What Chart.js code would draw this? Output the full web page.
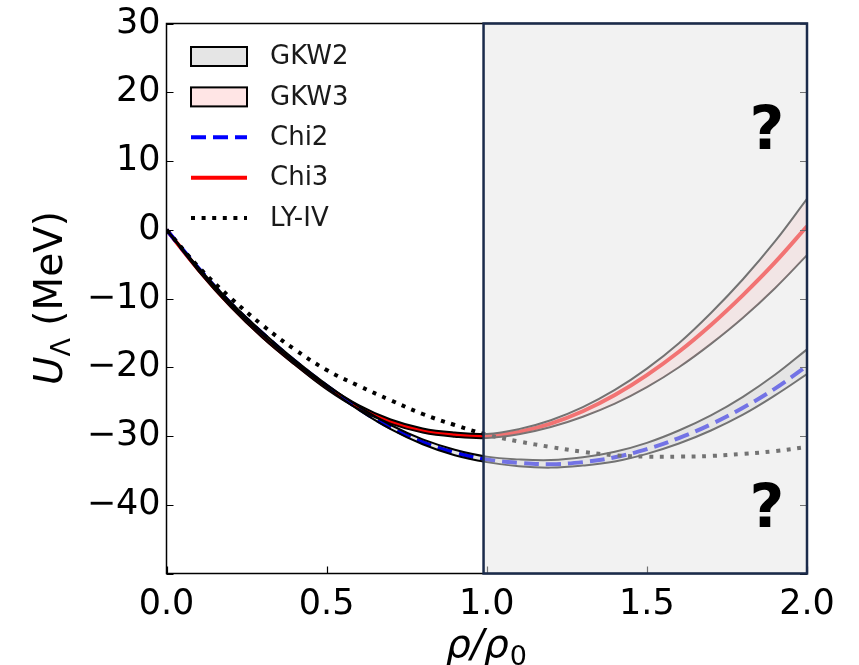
<!DOCTYPE html>
<html>
<head>
<meta charset="utf-8">
<script src="https://cdn.jsdelivr.net/npm/chart.js@4/dist/chart.umd.min.js"></script>
<style>
  html, body { margin: 0; padding: 0; background: #ffffff; }
  #main-chart { display: block; }
</style>
</head>
<body>
<canvas id="main-chart" width="859" height="665"></canvas>
<script>
// density rho/rho0
const RHO = [0, 0.1, 0.2, 0.3, 0.4, 0.5, 0.6, 0.7, 0.8, 0.9, 1.0,
  1.1, 1.2, 1.3, 1.4, 1.5, 1.6, 1.7, 1.8, 1.9, 2.0]

// U_Lambda (MeV)
const CHI2 = [0, -5.6, -10.7, -15.1, -19.1, -22.7, -26.0, -28.8, -30.9, -32.4, -33.4,
  -33.9, -34.1, -33.8, -33.1, -31.9, -30.3, -28.3, -25.9, -23.1, -19.8]
const GKW2_UPPER = [0, -5.5, -10.5, -14.9, -18.9, -22.5, -25.7, -28.4, -30.5, -32.0, -33.0,
  -33.4, -33.5, -33.1, -32.3, -31.0, -29.2, -27.0, -24.3, -21.1, -17.4]
const GKW2_LOWER = [0, -5.7, -10.9, -15.3, -19.3, -22.9, -26.2, -29.0, -31.2, -32.8, -33.8,
  -34.4, -34.6, -34.3, -33.7, -32.6, -31.1, -29.2, -26.9, -24.1, -21.0]

const CHI3 = [0, -5.8, -11.0, -15.5, -19.4, -22.9, -25.8, -27.9, -29.2, -29.8, -30.0,
  -29.4, -28.2, -26.4, -24.05, -21.15, -17.75, -13.85, -9.5, -4.75, 0.5]
const GKW3_UPPER = [0, -5.6, -10.8, -15.3, -19.2, -22.6, -25.5, -27.6, -28.9, -29.5, -29.7,
  -29.0, -27.7, -25.8, -23.3, -20.2, -16.5, -12.1, -7.2, -1.7, 4.5]
const GKW3_LOWER = [0, -6.0, -11.2, -15.7, -19.6, -23.2, -26.1, -28.2, -29.5, -30.1, -30.3,
  -29.75, -28.7, -27.2, -25.3, -22.9, -20.0, -16.6, -12.8, -8.5, -3.7]

const LY_IV = [0, -5.4, -9.9, -13.9, -17.4, -20.4, -22.7, -24.8, -26.8, -28.4, -29.8,
  -30.8, -31.6, -32.3, -32.8, -33.0, -33.0, -32.9, -32.6, -32.2, -31.6]

const X_TICKS = [0, 0.5, 1.0, 1.5, 2.0]
const Y_TICKS = [-50, -40, -30, -20, -10, 0, 10, 20, 30]

// extrapolation region and its markers
const UNKNOWN_FROM = 0.99
const UNKNOWN_TO = 2.0
const MARKS = [{ x: 1.875, y: 14, text: '?' }, { x: 1.875, y: -41, text: '?' }]

const FONT = '"DejaVu Sans", "Liberation Sans", sans-serif'

const toPoints = (ys) => RHO.map((x, i) => ({ x, y: ys[i] }))

const minus = (v) => v < 0 ? '\u2212' + Math.abs(v) : String(v)

const legendItems = [
  { label: 'GKW2', kind: 'box', fill: 'rgba(0,0,0,0.1)' },
  { label: 'GKW3', kind: 'box', fill: 'rgba(255,0,0,0.1)' },
  { label: 'Chi2', kind: 'line', color: '#0000ff', dash: [15, 7] },
  { label: 'Chi3', kind: 'line', color: '#ff0000', dash: [] },
  { label: 'LY-IV', kind: 'line', color: '#000000', dash: [4, 6.6] },
]

const framePlugin = {
  id: 'frame',
  afterDatasetsDraw(chart) {
    const { ctx, chartArea: a, scales: { x, y } } = chart
    ctx.save()

    // spines and inward ticks
    ctx.strokeStyle = '#000'
    ctx.lineWidth = 1.5
    ctx.strokeRect(a.left, a.top, a.right - a.left, a.bottom - a.top)
    ctx.lineWidth = 1.2
    ctx.beginPath()
    Y_TICKS.forEach(v => {
      const py = Math.round(y.getPixelForValue(v)) + 0.5
      ctx.moveTo(a.left, py); ctx.lineTo(a.left + 7, py)
      ctx.moveTo(a.right, py); ctx.lineTo(a.right - 7, py)
    })
    X_TICKS.forEach(v => {
      const px = Math.round(x.getPixelForValue(v)) + 0.5
      ctx.moveTo(px, a.bottom); ctx.lineTo(px, a.bottom - 7)
    })
    ctx.stroke()

    // shaded region beyond saturation density
    const rx = x.getPixelForValue(UNKNOWN_FROM)
    const rw = x.getPixelForValue(UNKNOWN_TO) - rx
    ctx.fillStyle = 'rgba(230,230,230,0.5)'
    ctx.fillRect(rx, a.top, rw, a.bottom - a.top)
    ctx.strokeStyle = '#1b2b4b'
    ctx.lineWidth = 2.5
    ctx.strokeRect(rx, a.top, rw, a.bottom - a.top)

    ctx.fillStyle = '#000'
    ctx.font = 'bold 60px ' + FONT
    ctx.textAlign = 'center'
    ctx.textBaseline = 'middle'
    MARKS.forEach(m => ctx.fillText(m.text, x.getPixelForValue(m.x), y.getPixelForValue(m.y)))

    // legend
    ctx.font = '26px ' + FONT
    ctx.textAlign = 'left'
    legendItems.forEach((item, i) => {
      const cy = 56.5 + i * 40.4
      if (item.kind === 'box') {
        ctx.fillStyle = item.fill
        ctx.fillRect(191, cy - 9.5, 56, 19)
        ctx.strokeStyle = '#000'
        ctx.lineWidth = 2
        ctx.setLineDash([])
        ctx.strokeRect(191, cy - 9.5, 56, 19)
      } else {
        ctx.strokeStyle = item.color
        ctx.lineWidth = 4
        ctx.setLineDash(item.dash)
        ctx.beginPath()
        ctx.moveTo(191, cy); ctx.lineTo(247, cy)
        ctx.stroke()
        ctx.setLineDash([])
      }
      ctx.fillStyle = '#1a1a1a'
      ctx.fillText(item.label, 270, cy + 1)
    })

    // axis titles
    ctx.fillStyle = '#000'
    ctx.textBaseline = 'alphabetic'
    const big = 'italic 39px ' + FONT
    const plain = '39px ' + FONT
    const sub = '27px ' + FONT

    ctx.font = big
    const wRho = ctx.measureText('\u03c1/\u03c1').width
    ctx.font = sub
    const wZero = ctx.measureText('0').width
    let sx = 486 - (wRho + wZero) / 2
    ctx.font = big
    ctx.fillText('\u03c1/\u03c1', sx, 657)
    ctx.font = sub
    ctx.fillText('0', sx + wRho + 1, 665)

    ctx.translate(62, 298)
    ctx.rotate(-Math.PI / 2)
    ctx.font = big
    const wU = ctx.measureText('U').width
    ctx.font = sub
    const wL = ctx.measureText('\u039b').width
    ctx.font = plain
    const wM = ctx.measureText(' (MeV)').width
    sx = -(wU + wL + wM) / 2
    ctx.font = big
    ctx.fillText('U', sx, 0)
    ctx.font = sub
    ctx.fillText('\u039b', sx + wU, 8)
    ctx.font = plain
    ctx.fillText(' (MeV)', sx + wU + wL, 0)

    ctx.restore()
  }
}

const runChart = () => {
  const chartContext = document.getElementById('main-chart').getContext('2d')
  const line = { pointRadius: 0, tension: 0.4 }

  new Chart(chartContext, {
    type: 'line',
    data: {
      datasets: [
        { ...line, label: 'GKW2', data: toPoints(GKW2_UPPER), borderColor: '#000', borderWidth: 2,
          backgroundColor: 'rgba(0,0,0,0.1)', fill: '+1', order: 1 },
        { ...line, label: 'GKW2 low', data: toPoints(GKW2_LOWER), borderColor: '#000', borderWidth: 2,
          fill: false, order: 1 },
        { ...line, label: 'GKW3', data: toPoints(GKW3_UPPER), borderColor: '#000', borderWidth: 2,
          backgroundColor: 'rgba(255,0,0,0.1)', fill: '+1', order: 1 },
        { ...line, label: 'GKW3 low', data: toPoints(GKW3_LOWER), borderColor: '#000', borderWidth: 2,
          fill: false, order: 1 },
        { ...line, label: 'Chi2', data: toPoints(CHI2), borderColor: '#0000ff', borderWidth: 4,
          borderDash: [15, 7], fill: false, order: 2 },
        { ...line, label: 'Chi3', data: toPoints(CHI3), borderColor: '#ff0000', borderWidth: 4,
          fill: false, order: 2 },
        { ...line, label: 'LY-IV', data: toPoints(LY_IV), borderColor: '#000', borderWidth: 4,
          borderDash: [4, 6.6], fill: false, order: 0 },
      ]
    },
    options: {
      responsive: false,
      animation: false,
      layout: { padding: { top: 20, right: 52, left: 0, bottom: 0 } },
      plugins: { legend: { display: false }, tooltip: { enabled: false } },
      scales: {
        x: {
          type: 'linear',
          min: 0,
          max: 2,
          afterFit: (s) => { s.height = 91.5 },
          afterBuildTicks: (s) => { s.ticks = X_TICKS.map(v => ({ value: v })) },
          grid: { display: false, drawTicks: false },
          border: { display: false },
          ticks: {
            color: '#000',
            padding: 14,
            font: { family: FONT, size: 35, lineHeight: 1 },
            callback: (v) => v.toFixed(1)
          }
        },
        y: {
          min: -50,
          max: 30,
          afterFit: (s) => { s.width = 166.5 },
          afterBuildTicks: (s) => { s.ticks = Y_TICKS.map(v => ({ value: v })) },
          grid: { display: false, drawTicks: false },
          border: { display: false },
          ticks: {
            color: '#000',
            padding: 6,
            font: { family: FONT, size: 35, lineHeight: 1 },
            callback: (v) => v === -50 ? '' : minus(v)
          }
        }
      }
    },
    plugins: [framePlugin]
  })
}

runChart()
</script>
</body>
</html>
